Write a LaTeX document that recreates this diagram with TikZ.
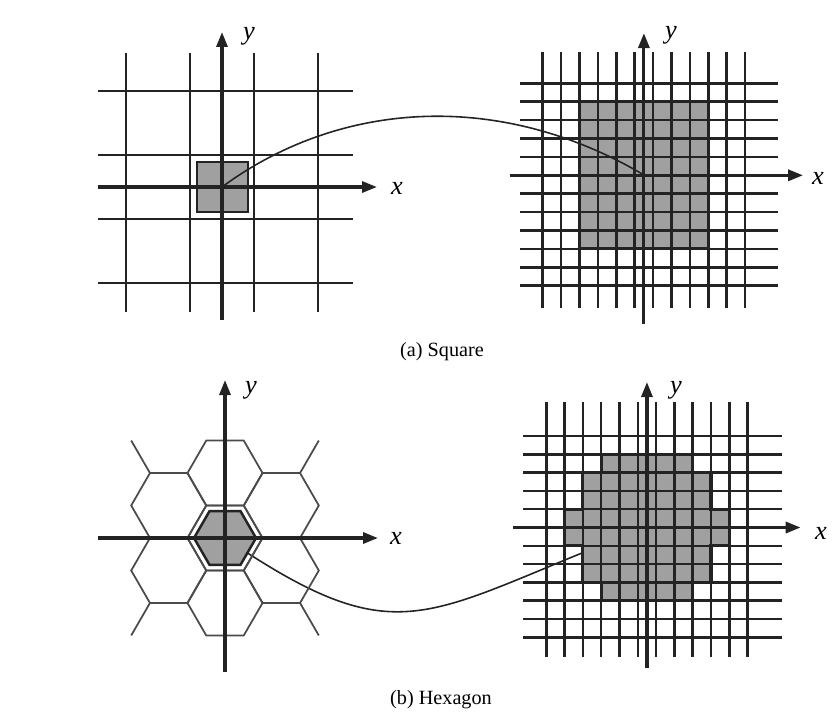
\documentclass[tikz,border=0pt]{standalone}
\usepackage{fontspec}
\setmainfont{Liberation Serif}
\definecolor{gridink}{RGB}{35,35,35}
\definecolor{hexink}{RGB}{75,75,75}
\definecolor{cellshade}{RGB}{160,160,160}
\usetikzlibrary{arrows.meta}

\begin{document}
\begin{tikzpicture}[x=0.02cm, y=-0.02cm,
  coarseline/.style={gridink, line width=1.4pt},
  fineline/.style={gridink, line width=1.4pt},
  axis/.style={gridink, line width=1.8pt, -{Triangle[length=0.3cm, width=0.22cm]}},
  hexline/.style={hexink, line width=1pt},
  shaded/.style={fill=cellshade, draw=gridink, line width=1.6pt},
  link/.style={gridink, line width=0.9pt},
  axlabel/.style={font=\fontsize{15}{15}\selectfont\itshape, inner sep=0pt},
  caption/.style={font=\fontsize{11.5}{13}\selectfont, inner sep=0pt}]
\useasboundingbox (0,0) rectangle (837,717);

% (a) square sampling
\coordinate (sqL) at (222,187);
\coordinate (sqR) at (644,175);
\foreach \p in {126,190,254,318} \draw[coarseline] (\p,53) -- (\p,312);
\foreach \p in {91,155,219,283} \draw[coarseline] (98,\p) -- (353,\p);
\filldraw[shaded] (197,162) rectangle (248,212);
\draw[axis] (98,187) -- (377,187);
\draw[axis] (222,320) -- (222,32);
\node[axlabel] (xa) at (397,188) {x};
\node[axlabel] (ya) at (249,36) {y};

\begin{scope}[shift={(542.7,83.3)}, scale=18.4]
  \fill[cellshade] (2,1) rectangle (9,9);
  \foreach \i in {0,...,11} \draw[fineline] (\i,-1.7) -- (\i,12.2);
  \foreach \j in {0,...,11} \draw[fineline] (-1.25,\j) -- (12.8,\j);
  \draw[gridink, line width=1.8pt] (2,1) rectangle (9,9);
  \draw[axis] (-1.78,5) -- (14.15,5);
  \draw[axis] (5.5,13.1) -- (5.5,-2.73);
\end{scope}
\node[axlabel] (xa2) at (818,178) {x};
\node[axlabel] (ya2) at (671,35) {y};

\draw[link] (sqL) .. controls (340,100) and (500,90) .. (sqR);
\node[caption] (capA) at (442,352) {(a) Square};

% (b) hexagonal sampling
\coordinate (hexL) at (225,538);
\coordinate (hexR) at (647,527.5);
\draw[link] (hexL) .. controls (406,661) and (424,611) .. (hexR);
\begin{scope}[shift={(hexL)}]
  \foreach \a/\r in {0/0,30/65,90/65,150/65,210/65,270/65,330/65}
    \draw[hexline, shift={(\a:\r)}] (0:37.5) -- (60:37.5) -- (120:37.5)
      -- (180:37.5) -- (240:37.5) -- (300:37.5) -- cycle;
  \foreach \a/\d in {30/60,150/120,210/240,330/300}
    \draw[hexline, shift={(\a:65)}] (\d:37.5) -- (\d:75);
  \filldraw[shaded, line width=1.4pt] (0:31) -- (60:31) -- (120:31)
    -- (180:31) -- (240:31) -- (300:31) -- cycle;
  \draw[axis] (-127,0) -- (153,0);
  \draw[axis] (0,134) -- (0,-158);
\end{scope}
\node[axlabel] (xb) at (396,538) {x};
\node[axlabel] (yb) at (251,390) {y};

\begin{scope}[shift={(546.3,436)}, scale=18.3]
  \fill[cellshade] (3,1) -- (8,1) -- (8,2) -- (9,2) -- (9,4) -- (10,4)
    -- (10,6) -- (9,6) -- (9,8) -- (8,8) -- (8,9) -- (3,9) -- (3,8)
    -- (2,8) -- (2,6) -- (1,6) -- (1,4) -- (2,4) -- (2,2) -- (3,2) -- cycle;
  \foreach \i in {0,...,11} \draw[fineline] (\i,-1.87) -- (\i,12.06);
  \foreach \j in {0,...,11} \draw[fineline] (-1.27,\j) -- (12.87,\j);
  \draw[gridink, line width=1.8pt] (3,1) -- (8,1) -- (8,2) -- (9,2) -- (9,4) -- (10,4)
    -- (10,6) -- (9,6) -- (9,8) -- (8,8) -- (8,9) -- (3,9) -- (3,8)
    -- (2,8) -- (2,6) -- (1,6) -- (1,4) -- (2,4) -- (2,2) -- (3,2) -- cycle;
  \draw[axis] (-1.82,5) -- (13.9,5);
  \draw[axis] (5.5,12.7) -- (5.5,-2.95);
\end{scope}
\node[axlabel] (xb2) at (821,533) {x};
\node[axlabel] (yb2) at (676,390) {y};
\node[caption] (capB) at (441,700) {(b) Hexagon};
\end{tikzpicture}
\end{document}
